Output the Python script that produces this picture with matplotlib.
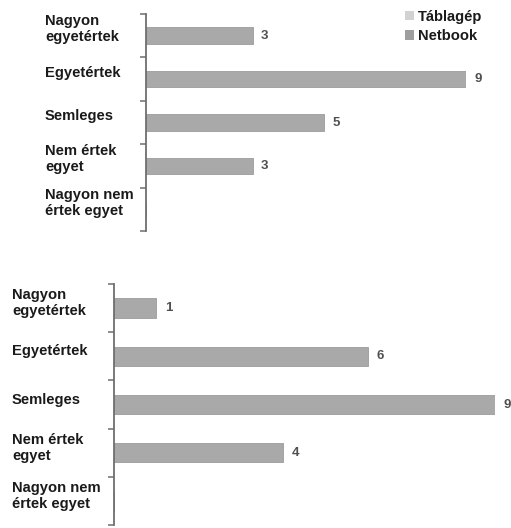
import matplotlib.pyplot as plt
from matplotlib.patches import Patch
from matplotlib.transforms import blended_transform_factory, Bbox, TransformedBbox

plt.rcParams['font.family'] = ['Liberation Sans', 'DejaVu Sans']

# answer categories, top to bottom
categories = ['Nagyon\negyetértek', 'Egyetértek', 'Semleges',
              'Nem értek\negyet', 'Nagyon nem\nértek egyet']
# counts for each survey question
top_values = [3, 9, 5, 3, 0]
bottom_values = [1, 6, 9, 4, 0]
legend_labels = ['Táblagép', 'Netbook']

bar_color = '#a9a9a9'
text_color = '#1a1a1a'

fig = plt.figure(figsize=(5.11, 5.28), dpi=100)
W, H = 511, 528


def draw_panel(rect, values, label_x, bar_h, label_shift, clip_x=None):
    ax = fig.add_axes(rect)
    pos = list(range(len(categories)))
    bars = ax.barh(pos, values, height=bar_h, color=bar_color,
                   edgecolor='#9c9c9c', linewidth=0.6)
    ax.set_ylim(len(categories) - 0.5, -0.5)
    ax.set_xlim(0, 9)
    for b, v in zip(bars, values):
        if v > 0:
            ax.annotate(str(v), (v, b.get_y() + b.get_height() / 2),
                        xytext=(6, 0), textcoords='offset points',
                        va='center', ha='left', fontsize=9.5, fontweight='bold',
                        color='#505050', annotation_clip=False)
    # left axis with outward ticks between categories
    for s in ['top', 'right', 'bottom']:
        ax.spines[s].set_visible(False)
    ax.spines['left'].set_color('#6e6e6e')
    ax.spines['left'].set_linewidth(1.3)
    ax.set_xticks([])
    ax.set_yticks([p - 0.5 for p in pos] + [len(categories) - 0.5])
    ax.set_yticklabels([])
    ax.tick_params(axis='y', direction='out', length=4, width=1.1, color='#6e6e6e')
    trans = blended_transform_factory(fig.transFigure, ax.transData)
    for p, lab in zip(pos, categories):
        t = ax.text(label_x / W, p - label_shift, lab, transform=trans,
                    ha='left', va='center', fontsize=10.6, fontweight='bold',
                    color=text_color, linespacing=1.2, clip_on=False)
        if clip_x is not None:
            t.set_clip_box(TransformedBbox(Bbox([[0, 0], [clip_x / W, 1]]), fig.transFigure))
            t.set_clip_on(True)
    return ax


# upper panel
draw_panel([146 / W, (H - 231) / H, 320 / W, 217 / H], top_values,
           45, 0.38, 0.15)
# lower panel
draw_panel([114 / W, (H - 525) / H, 381 / W, 241 / H], bottom_values,
           12, 0.4, 0.1, clip_x=101)

handles = [Patch(facecolor='#d2d2d2', edgecolor='none'),
           Patch(facecolor='#9e9e9e', edgecolor='none')]
fig.legend(handles, legend_labels, loc='upper left',
           bbox_to_anchor=(396 / W, 0.998), frameon=False,
           prop={'weight': 'bold', 'size': 10.6}, handlelength=0.6,
           handleheight=0.6, handletextpad=0.3, labelspacing=0.35,
           borderpad=0.1, labelcolor=text_color)

fig.savefig('out.png', dpi=100)
